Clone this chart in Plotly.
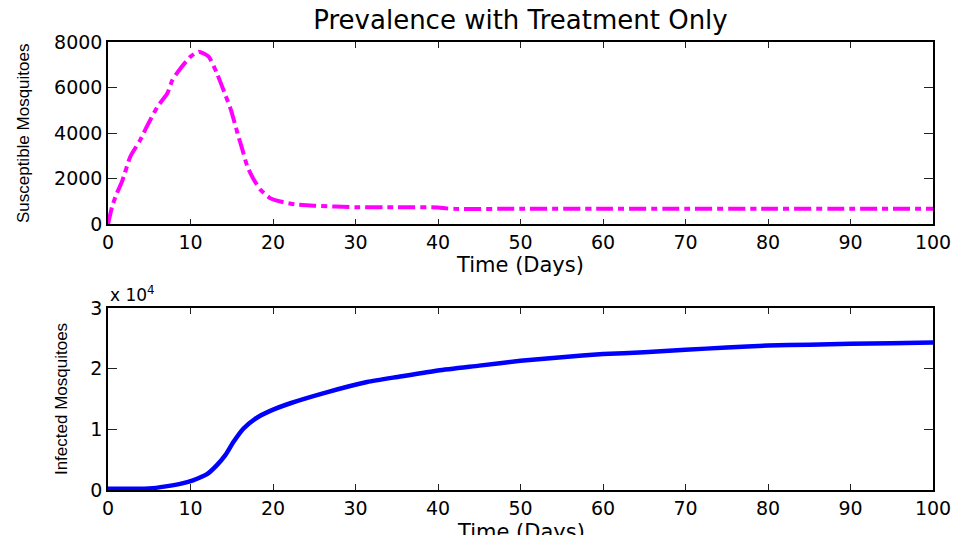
import plotly.graph_objects as go
from plotly.subplots import make_subplots

# Susceptible mosquito population over time
t_susceptible = [0, 0.5, 1, 1.7, 2.7, 3.9, 4.7, 6.0, 7.2, 7.8, 8.8, 10, 11, 12.2, 13.2,
                 14, 14.9, 15.7, 16.3, 16.9, 17.7, 18.5, 19.7, 20.9, 22.6, 25, 30, 35,
                 40, 41, 42, 50, 60, 70, 80, 90, 100]
susceptible = [0, 780, 1300, 1880, 2970, 3700, 4290, 5170, 5760, 6340, 6860, 7370, 7590,
               7370, 6640, 5900, 5030, 4000, 3270, 2530, 1950, 1510, 1140, 1000, 880, 820,
               750, 745, 740, 700, 680, 680, 680, 680, 680, 680, 680]

# Infected mosquito population over time
t_infected = [0, 3, 5, 7, 9, 10.3, 12, 13.2, 14.2, 15.2, 16.4, 17.8, 19.6, 22.1, 26.5,
              31.4, 35.4, 40, 45, 50, 55, 60, 65, 70, 75, 80, 85, 90, 95, 100]
infected = [200, 200, 250, 600, 1100, 1600, 2600, 4100, 5700, 7900, 10100, 11700, 13000,
            14300, 16100, 17800, 18700, 19700, 20500, 21300, 21900, 22400, 22700, 23100,
            23500, 23800, 23950, 24100, 24200, 24300]

x_ticks = [0, 10, 20, 30, 40, 50, 60, 70, 80, 90, 100]
s_ticks = [0, 2000, 4000, 6000, 8000]
i_ticks = [0, 10000, 20000, 30000]
i_tick_text = ["0", "1", "2", "3"]

W, H = 954, 535
FONT = "DejaVu Sans"

fig = make_subplots(rows=2, cols=1)

fig.add_trace(go.Scatter(x=t_susceptible, y=susceptible, mode="lines",
                         line=dict(color="#FF00FF", width=4, dash="17px,5px,6px,5px",
                                   shape="spline", smoothing=0.5)),
              row=1, col=1)
fig.add_trace(go.Scatter(x=t_infected, y=infected, mode="lines",
                         line=dict(color="#0000FF", width=4.5, shape="spline",
                                   smoothing=0.6)),
              row=2, col=1)

def ydom(top_px, bottom_px):
    return [1 - bottom_px / H, 1 - top_px / H]

common_x = dict(range=[0, 100], tickvals=x_ticks, ticks="inside", ticklen=6,
                tickcolor="#222", showline=True, linecolor="black", linewidth=1.5,
                mirror="ticks", showgrid=False, zeroline=False, automargin=False,
                tickfont=dict(family=FONT, size=19, color="black"))
common_y = dict(ticks="inside", ticklen=9, tickcolor="#222", showline=True,
                linecolor="black", linewidth=1.5, mirror="ticks", showgrid=False,
                zeroline=False, automargin=False,
                tickfont=dict(family=FONT, size=19, color="black"))

fig.update_xaxes(**common_x, domain=[0, 1])
fig.update_yaxes(**common_y)

fig.update_xaxes(title=dict(text="Time (Days)",
                            font=dict(family=FONT, size=21, color="black"), standoff=0),
                 row=1, col=1)

fig.update_yaxes(range=[0, 8000], tickvals=s_ticks, domain=ydom(42.3, 224.3),
                 title=dict(text="Susceptible Mosquitoes",
                            font=dict(family="Liberation Sans", size=17, color="black"),
                            standoff=20),
                 row=1, col=1)
fig.update_yaxes(range=[0, 30000], tickvals=i_ticks, ticktext=i_tick_text,
                 domain=ydom(308, 490),
                 title=dict(text="Infected Mosquitoes",
                            font=dict(family="Liberation Sans", size=17, color="black"),
                            standoff=18),
                 row=2, col=1)

# lower x-axis title sits right at the bottom edge of the figure
fig.add_annotation(text="Time (Days)", xref="x2 domain", x=0.5, xanchor="center",
                   yref="paper", y=1 - 518 / H, yanchor="top", showarrow=False,
                   font=dict(family=FONT, size=21, color="black"))

fig.add_annotation(text="x 10<sup>4</sup>", xref="x2 domain", x=0, xanchor="left",
                   yref="paper", y=1 - 294 / H, yanchor="middle", showarrow=False,
                   font=dict(family=FONT, size=17, color="black"))

fig.update_layout(
    width=W, height=H,
    margin=dict(l=108, r=21, t=0, b=0, autoexpand=False),
    paper_bgcolor="white", plot_bgcolor="white",
    showlegend=False,
    title=dict(text="Prevalence with Treatment Only", x=0.5, xanchor="center",
               y=1 - 20 / H, yanchor="middle", xref="paper",
               font=dict(family=FONT, size=26, color="black")),
)

fig.write_html("out.html")
